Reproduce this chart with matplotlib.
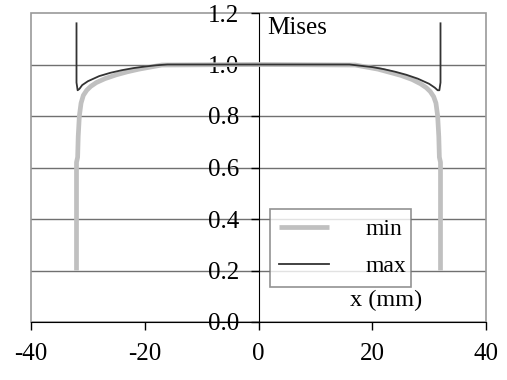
import matplotlib.pyplot as plt
from matplotlib.patches import Rectangle

# curve data
x_min = [-32.0, -32.0, -31.8, -31.7, -31.5, -31.2, -30.8, -30.2, -29.5, -28.5, -27.0, -25.0,
         -23.0, -21.0, -19.0, -17.0, 0.0, 17.0, 19.0, 21.0, 23.0, 25.0, 27.0, 28.5, 29.5,
         30.2, 30.8, 31.2, 31.5, 31.7, 31.8, 32.0, 32.0]
y_min = [0.20, 0.62, 0.64, 0.72, 0.80, 0.85, 0.88, 0.90, 0.915, 0.93, 0.945, 0.96,
         0.972, 0.982, 0.99, 0.998, 1.0, 0.998, 0.99, 0.982, 0.97, 0.958, 0.942, 0.925, 0.91,
         0.895, 0.875, 0.85, 0.80, 0.72, 0.64, 0.62, 0.20]

x_max = [-32.0, -32.0, -31.8, -31.5, -31.0, -30.0, -29.0, -28.0, -26.0, -24.0, -22.0, -20.0,
         -18.0, -16.0, 0.0, 16.0, 18.0, 20.0, 22.0, 24.0, 26.0, 28.0, 29.0, 30.0, 31.0,
         31.5, 31.8, 32.0, 32.0]
y_max = [1.16, 0.93, 0.90, 0.905, 0.92, 0.935, 0.945, 0.955, 0.968, 0.978, 0.986, 0.992,
         0.997, 1.0, 1.0, 1.0, 0.995, 0.99, 0.982, 0.972, 0.96, 0.945, 0.935, 0.925, 0.91,
         0.90, 0.90, 0.93, 1.16]

xticks = [-40, -20, 0, 20, 40]
yticks = [0.0, 0.2, 0.4, 0.6, 0.8, 1.0, 1.2]

plt.rcParams['font.family'] = ['Liberation Serif', 'DejaVu Serif']

fig = plt.figure(figsize=(5.07, 3.80), dpi=100)
ax = fig.add_axes([31 / 507, 58 / 380, 455 / 507, 309 / 380])

ax.plot(x_min, y_min, color='#c0c0c0', lw=3.4, solid_capstyle='butt', label='min', zorder=3)
ax.plot(x_max, y_max, color='#333333', lw=1.3, label='max', zorder=4)

ax.set_xlim(-40, 40)
ax.set_ylim(0, 1.2)
ax.set_xticks(xticks)
ax.set_xticklabels(['%g' % t for t in xticks])
ax.set_yticks(yticks)
ax.set_yticklabels(['%.1f' % t for t in yticks])

for t in yticks[1:-1]:
    ax.axhline(t, color='#707070', lw=1.0, zorder=1)
ax.add_patch(Rectangle((0, 0), 1, 1, transform=ax.transAxes, fill=False,
                       edgecolor='#999999', lw=1.2, zorder=1, clip_on=False))

ax.spines['top'].set_visible(False)
ax.spines['right'].set_visible(False)
ax.spines['left'].set_position(('data', 0))
ax.spines['left'].set_color('black')
ax.spines['bottom'].set_color('black')
ax.spines['left'].set_zorder(2)
ax.spines['bottom'].set_zorder(2)

ax.tick_params(axis='both', direction='out', length=6, width=1, labelsize=18, color='black')
ax.tick_params(axis='y', pad=8)
ax.tick_params(axis='x', pad=9)

ax.text(1.6, 1.14, 'Mises', fontsize=18, ha='left', va='center')
ax.text(16.1, 0.085, 'x (mm)', fontsize=17.5, ha='left', va='center')

leg = ax.legend(loc='upper left', bbox_to_anchor=(239 / 455, 1 - 273 / 309, 141 / 455, 77 / 309),
                mode='expand', fontsize=17,
                handlelength=2.1, handletextpad=1.55, borderpad=0.4, labelspacing=0.66,
                frameon=True, fancybox=False, borderaxespad=0)
leg.get_frame().set_edgecolor('#777777')
leg.get_frame().set_linewidth(1.2)

fig.savefig('out.png', dpi=100)
